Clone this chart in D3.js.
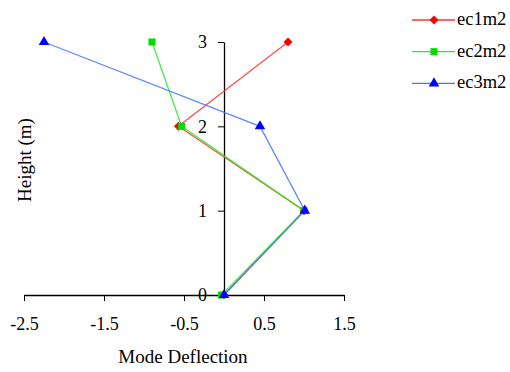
<!DOCTYPE html>
<html>
<head>
<meta charset="utf-8">
<script src="https://cdn.jsdelivr.net/npm/d3@7"></script>
<style>
  body { margin: 0; background: #fff; }
</style>
</head>
<body>
<div id="chart"></div>
<script>
// data
let heights = [0, 1, 2, 3];
let ec1m2 = [0, 1.0, -0.57, 0.8];
let ec2m2 = [-0.03, 1.0, -0.53, -0.9];
let ec3m2 = [0, 1.01, 0.45, -2.25];
let seriesNames = ['ec1m2', 'ec2m2', 'ec3m2'];
let xTicks = [-2.5, -1.5, -0.5, 0.5, 1.5];
let yTicks = [0, 1, 2, 3];

let width = 510;
let height = 372;
let serif = 'Liberation Serif';

let svg = d3.select('#chart').append('svg')
    .attr('width', width)
    .attr('height', height);

const x = d3.scaleLinear().domain([-2.5, 1.5]).range([24, 344]);
const y = d3.scaleLinear().domain([0, 3]).range([295, 42]);

let series = [
    {name: seriesNames[0], vals: ec1m2, line: '#ff3333', fill: '#ff0000', shape: d3.symbolSquare, size: 40, rot: 45},
    {name: seriesNames[1], vals: ec2m2, line: '#22ee22', fill: '#00dd00', shape: d3.symbolSquare, size: 50, rot: 0},
    {name: seriesNames[2], vals: ec3m2, line: '#4477ff', fill: '#0000ff', shape: d3.symbolTriangle, size: 48, rot: 0}
];

// x axis (at y = 0)
let xAxis = svg.append('g')
    .attr('transform', 'translate(0,' + y(0) + ')')
    .call(d3.axisBottom(x).tickValues(xTicks).tickSize(6).tickSizeOuter(0).tickPadding(16)
        .tickFormat(d => d.toFixed(1)));
xAxis.selectAll('text').style('font-family', serif).style('font-size', '18px');
xAxis.select('.domain').attr('stroke', '#000').attr('stroke-width', 1.3);

// y axis (at x = 0)
let yAxis = svg.append('g')
    .attr('transform', 'translate(' + x(0) + ',0)')
    .call(d3.axisLeft(y).tickValues(yTicks).tickSize(6).tickSizeOuter(0).tickPadding(11)
        .tickFormat(d => String(d)));
yAxis.selectAll('text').style('font-family', serif).style('font-size', '18px');
yAxis.select('.domain').attr('stroke', '#000').attr('stroke-width', 1.3);

// lines
let line = d3.line()
    .x(d => x(d[0]))
    .y(d => y(d[1]));

series.forEach(function(s) {
    let pts = s.vals.map((v, i) => [v, heights[i]]);
    svg.append('path')
        .datum(pts)
        .attr('fill', 'none')
        .attr('stroke', s.line)
        .attr('stroke-opacity', 0.85)
        .attr('stroke-width', 1.3)
        .attr('d', line);
});

series.forEach(function(s) {
    svg.append('g')
        .selectAll('path')
        .data(s.vals.map((v, i) => [v, heights[i]]))
        .enter()
        .append('path')
        .attr('transform', d => 'translate(' + x(d[0]) + ',' + y(d[1]) + ') rotate(' + s.rot + ')')
        .attr('d', d3.symbol().type(s.shape).size(s.size))
        .attr('fill', s.fill);
});

// axis titles
svg.append('text')
    .attr('x', 183)
    .attr('y', 363)
    .attr('text-anchor', 'middle')
    .style('font-family', serif)
    .style('font-size', '19px')
    .text('Mode Deflection');

svg.append('text')
    .attr('transform', 'translate(31,160) rotate(-90)')
    .attr('text-anchor', 'middle')
    .style('font-family', serif)
    .style('font-size', '19px')
    .text('Height (m)');

// legend
let legend = svg.append('g');
series.forEach(function(s, i) {
    let ly = 20 + i * 31.7;
    legend.append('line')
        .attr('x1', 412).attr('x2', 455)
        .attr('y1', ly).attr('y2', ly)
        .attr('stroke', s.line)
        .attr('stroke-width', 1.3);
    legend.append('path')
        .attr('transform', 'translate(434,' + ly + ') rotate(' + s.rot + ')')
        .attr('d', d3.symbol().type(s.shape).size(s.size))
        .attr('fill', s.fill);
    legend.append('text')
        .attr('x', 457)
        .attr('y', ly + 5)
        .style('font-family', serif)
        .style('font-size', '18.5px')
        .text(s.name);
});
</script>
</body>
</html>
